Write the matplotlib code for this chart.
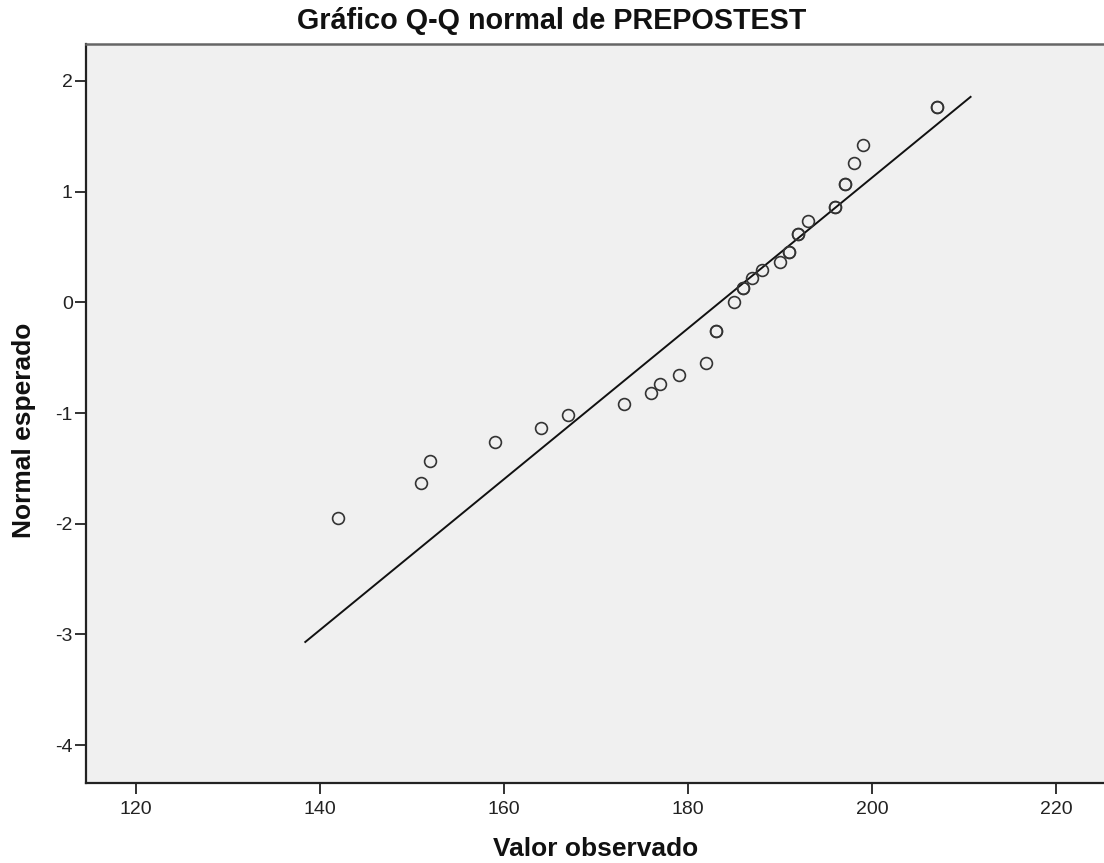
import matplotlib.pyplot as plt
import numpy as np

# observed values (ties repeated) and expected normal scores
observed = [142, 151, 152, 159, 164, 167, 173, 176, 177, 179, 182,
            183, 183, 185, 186, 186, 187, 188, 190, 191, 191, 192, 192,
            193, 196, 196, 197, 197, 198, 199, 207, 207]
expected = [-1.95, -1.63, -1.43, -1.26, -1.14, -1.02, -0.92, -0.82, -0.74,
            -0.66, -0.545, -0.26, -0.26, 0.0, 0.125, 0.125, 0.22, 0.29, 0.36,
            0.457, 0.457, 0.617, 0.617, 0.737, 0.865, 0.865, 1.07, 1.07,
            1.26, 1.42, 1.767, 1.767]

# reference line: expected = (x - mean) / sd
line_mean = 183.45
line_sd = 14.68
line_x = [138.4, 210.7]

x_ticks = [120, 140, 160, 180, 200, 220]
y_ticks = [-4, -3, -2, -1, 0, 1, 2]

plt.rcParams['font.family'] = ['Liberation Sans', 'DejaVu Sans']
plt.rcParams['axes.unicode_minus'] = False

fig = plt.figure(figsize=(11.04, 8.63), dpi=100)
ax = fig.add_axes([86 / 1104, 1 - 783 / 863, 1 - 86 / 1104, (783 - 44) / 863])
ax.set_facecolor('#f0f0f0')

lx = np.array(line_x)
ax.plot(lx, (lx - line_mean) / line_sd, color='#111111', lw=1.4, zorder=2)
ax.plot(observed, expected, linestyle='none', marker='o', markersize=8.5,
        markerfacecolor='none', markeredgecolor='#333333', markeredgewidth=1.2,
        zorder=3)

ax.set_xlim(114.57, 225.2)
ax.set_ylim(-4.343, 2.334)
ax.set_xticks(x_ticks)
ax.set_yticks(y_ticks)
ax.tick_params(axis='both', direction='out', length=8, width=1.3,
               labelsize=14, color='#222222', labelcolor='#222222')
ax.tick_params(axis='x', pad=5)
ax.tick_params(axis='y', pad=1.5)

for side in ['left', 'bottom']:
    ax.spines[side].set_color('#222222')
    ax.spines[side].set_linewidth(1.6)
ax.spines['top'].set_color('#666666')
ax.spines['top'].set_linewidth(1.8)
ax.spines['right'].set_visible(False)

fig.text(0.5, 1 - 21 / 863, 'Gráfico Q-Q normal de PREPOSTEST',
         ha='center', va='center', fontsize=20.7, fontweight='bold', color='#111111')
fig.text(596 / 1104, 1 - 849 / 863, 'Valor observado',
         ha='center', va='center', fontsize=19, fontweight='bold', color='#111111')
fig.text(24 / 1104, 1 - 430 / 863, 'Normal esperado', rotation=90,
         ha='center', va='center', fontsize=19, fontweight='bold', color='#111111')

fig.savefig('out.png', dpi=100)
